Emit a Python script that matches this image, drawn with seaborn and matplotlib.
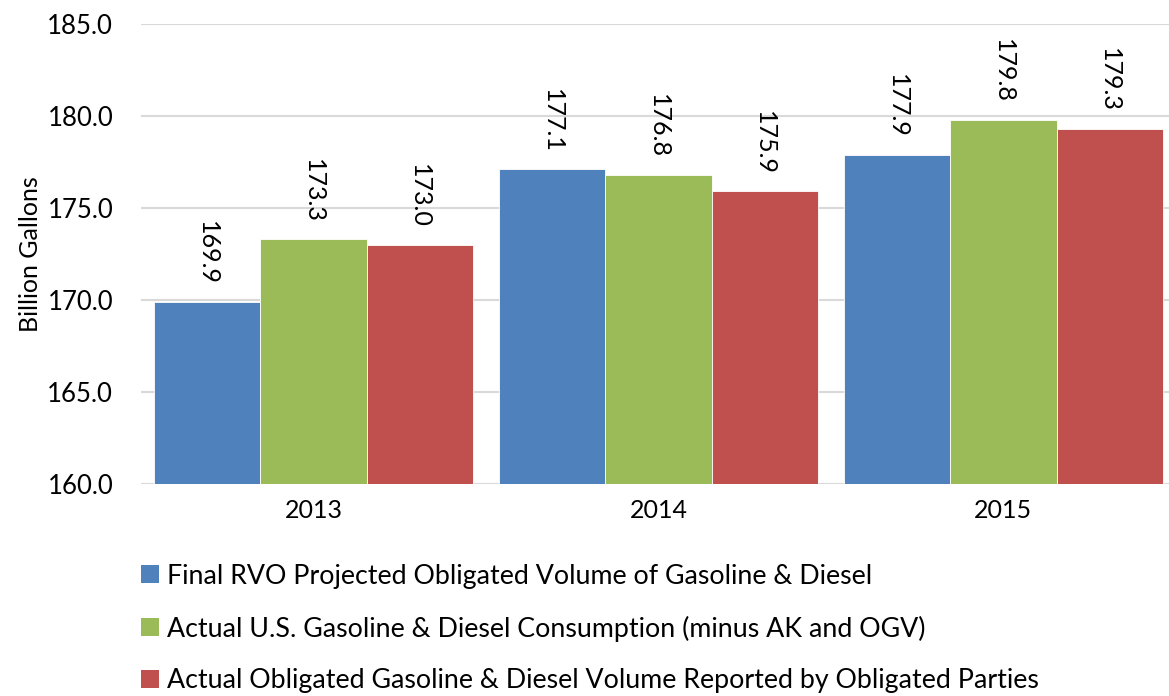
import matplotlib
matplotlib.use("Agg")
import matplotlib.pyplot as plt
import seaborn as sns
import pandas as pd
from matplotlib.patches import Patch

years = ["2013", "2014", "2015"]
series_names = [
    "Final RVO Projected Obligated Volume of Gasoline & Diesel",
    "Actual U.S. Gasoline & Diesel Consumption (minus AK and OGV)",
    "Actual Obligated Gasoline & Diesel Volume Reported by Obligated Parties",
]
final_rvo = [169.9, 177.1, 177.9]
actual_consumption = [173.3, 176.8, 179.8]
actual_obligated = [173.0, 175.9, 179.3]
colors = ["#4F81BD", "#9BBB59", "#C0504D"]

rows = []
for name, vals in zip(series_names, [final_rvo, actual_consumption, actual_obligated]):
    for y, v in zip(years, vals):
        rows.append({"Year": y, "Series": name, "Value": v})
df = pd.DataFrame(rows)

sns.set_theme(style="white")
plt.rcParams["font.family"] = ["Lato", "DejaVu Sans"]
plt.rcParams["text.color"] = "black"
plt.rcParams["xtick.color"] = "black"
plt.rcParams["ytick.color"] = "black"
plt.rcParams["axes.labelcolor"] = "black"

fig = plt.figure(figsize=(11.69, 6.96), dpi=100)
ax = fig.add_axes([0.1206, 0.3046, 0.8794, 0.6609])

sns.barplot(data=df, x="Year", y="Value", hue="Series", hue_order=series_names,
            palette=colors, width=0.925, saturation=1, ax=ax, legend=False,
            edgecolor="white", linewidth=0.6, errorbar=None)

ax.set_ylim(160, 185)
ax.set_xlim(-0.5, 2.48)
ax.set_yticks([160, 165, 170, 175, 180, 185])
ax.set_yticklabels([f"{t:.1f}" for t in [160, 165, 170, 175, 180, 185]], fontsize=18.5)
ax.tick_params(axis="x", labelsize=18, pad=11, length=0)
ax.tick_params(axis="y", length=0, pad=20)
ax.set_xlabel("")
ax.set_ylabel("Billion Gallons", fontsize=18, labelpad=4)
ax.yaxis.grid(True, color="#D9D9D9", linewidth=1.5)
ax.set_axisbelow(True)
for s in ax.spines.values():
    s.set_visible(False)

for container in ax.containers:
    for bar in container:
        h = bar.get_height()
        ax.annotate(f"{h:.1f}", (bar.get_x() + bar.get_width() / 2, h),
                    xytext=(0, 12), textcoords="offset points",
                    rotation=-90, ha="center", va="bottom", fontsize=18)

handles = [Patch(facecolor=c, edgecolor="none") for c in colors]
fig.legend(handles, series_names, loc="upper left", bbox_to_anchor=(0.121, 0.19),
           frameon=False, fontsize=19.3, handlelength=0.65, handleheight=0.65,
           handletextpad=0.32, labelspacing=1.0, borderaxespad=0, borderpad=0)

fig.savefig("out.png", dpi=100)
